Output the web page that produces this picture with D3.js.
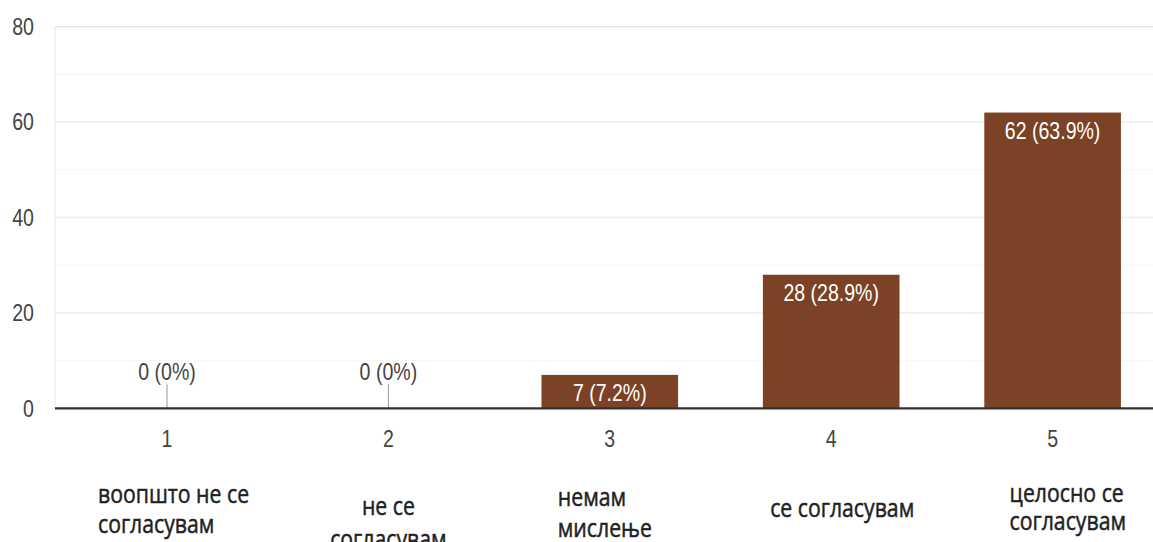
<!DOCTYPE html>
<html>
<head>
<meta charset="utf-8">
<script src="https://cdn.jsdelivr.net/npm/d3@7"></script>
<style>
  html, body { margin: 0; padding: 0; background: #fff; overflow: hidden; }
  svg { display: block; }
</style>
</head>
<body>
<div id="chart"></div>
<script>
// data
const categories = ['1', '2', '3', '4', '5']
const counts = [0, 0, 7, 28, 62]
const percents = ['0%', '0%', '7.2%', '28.9%', '63.9%']
const answerLabels = [
    ['воопшто не се', 'согласувам'],
    ['не се', 'согласувам'],
    ['немам', 'мислење'],
    ['се согласувам'],
    ['целосно се', 'согласувам']
]
const yTicks = [0, 20, 40, 60, 80]
const yGrid = [10, 20, 30, 40, 50, 60, 70, 80]

const width = 1153
const height = 542
// the source picture is squeezed horizontally, so draw wide and squash
const SQ = 0.85
const px = v => v / SQ

// hand placement of the answer texts (screen px, relative to band centre)
const answerLayout = [
    { anchor: 'start', dx: -69, y: [503, 533] },
    { anchor: 'middle', dx: 0, y: [515, 548] },
    { anchor: 'start', dx: -52, y: [506, 537] },
    { anchor: 'middle', dx: 11, y: [517] },
    { anchor: 'start', dx: -43, y: [502, 530] }
]

const svg = d3.select('#chart')
    .append('svg')
    .attr('width', width)
    .attr('height', height)

const g = svg.append('g')
    .attr('transform', `scale(${SQ},1)`)

const plotLeft = px(55)

/* SCALES */
const xScale = d3.scaleBand()
    .domain(categories)
    .range([px(56.3), px(1163.3)])
    .paddingInner(0.383)
    .paddingOuter(0.1915)

const yScale = d3.scaleLinear()
    .domain([0, 80])
    .range([408.3, 26.7])

// grid
g.selectAll('line.grid')
    .data(yGrid)
    .join('line')
    .attr('class', 'grid')
    .attr('x1', plotLeft)
    .attr('x2', px(width))
    .attr('y1', d => yScale(d))
    .attr('y2', d => yScale(d))
    .style('stroke', d => d === 80 ? '#e4e4e4' : (d % 20 === 0 ? '#ececec' : '#f5f5f5'))
    .style('stroke-width', d => d % 20 === 0 ? 1.5 : 1)

g.append('line')
    .attr('x1', plotLeft).attr('x2', plotLeft)
    .attr('y1', yScale(80)).attr('y2', yScale(0))
    .style('stroke', '#e6e6e6')
    .style('stroke-width', 1.2)

// y labels
g.selectAll('text.ytick')
    .data(yTicks)
    .join('text')
    .attr('class', 'ytick')
    .attr('x', px(34))
    .attr('y', d => yScale(d))
    .attr('dy', '0.36em')
    .attr('text-anchor', 'end')
    .style('font-family', '"Liberation Sans", Arial, sans-serif')
    .style('font-size', '23px')
    .style('fill', '#444')
    .text(d => d)

// bars
const bars = categories.map((c, i) => ({ cat: c, count: counts[i], pct: percents[i], lines: answerLabels[i], lay: answerLayout[i] }))

g.selectAll('rect.bar')
    .data(bars.filter(d => d.count > 0))
    .join('rect')
    .attr('class', 'bar')
    .attr('x', d => xScale(d.cat))
    .attr('y', d => yScale(d.count))
    .attr('width', xScale.bandwidth())
    .attr('height', d => yScale(0) - yScale(d.count))
    .style('fill', '#7b4225')

// stems for zero values
g.selectAll('line.stem')
    .data(bars.filter(d => d.count === 0))
    .join('line')
    .attr('class', 'stem')
    .attr('x1', d => xScale(d.cat) + xScale.bandwidth() / 2)
    .attr('x2', d => xScale(d.cat) + xScale.bandwidth() / 2)
    .attr('y1', yScale(0) - 24)
    .attr('y2', yScale(0))
    .style('stroke', '#999')
    .style('stroke-width', 1.2)

// value labels
g.selectAll('text.val')
    .data(bars)
    .join('text')
    .attr('class', 'val')
    .attr('x', d => xScale(d.cat) + xScale.bandwidth() / 2)
    .attr('y', d => d.count > 0 ? yScale(d.count) + 26 : yScale(0) - 28)
    .attr('text-anchor', 'middle')
    .style('font-family', '"Liberation Sans", Arial, sans-serif')
    .style('font-size', '23px')
    .style('fill', d => d.count > 0 ? '#fff' : '#444')
    .text(d => `${d.count} (${d.pct})`)

// baseline
g.append('line')
    .attr('x1', plotLeft).attr('x2', px(width))
    .attr('y1', yScale(0)).attr('y2', yScale(0))
    .style('stroke', '#333')
    .style('stroke-width', 2.2)

// category numbers
g.selectAll('text.cat')
    .data(categories)
    .join('text')
    .attr('class', 'cat')
    .attr('x', d => xScale(d) + xScale.bandwidth() / 2)
    .attr('y', 447)
    .attr('text-anchor', 'middle')
    .style('font-family', '"Liberation Sans", Arial, sans-serif')
    .style('font-size', '23px')
    .style('fill', '#444')
    .text(d => d)

// answer texts
const ans = g.selectAll('text.ans')
    .data(bars)
    .join('text')
    .attr('class', 'ans')
    .attr('text-anchor', d => d.lay.anchor)
    .style('font-family', '"Open Sans", sans-serif')
    .style('font-size', '25px')
    .style('fill', '#222')
    .style('stroke', '#222')
    .style('stroke-width', 0.5)

ans.selectAll('tspan')
    .data(d => d.lines.map((t, j) => ({ t, x: xScale(d.cat) + xScale.bandwidth() / 2 + px(d.lay.dx), y: d.lay.y[j] })))
    .join('tspan')
    .attr('x', d => d.x)
    .attr('y', d => d.y)
    .text(d => d.t)
</script>
</body>
</html>
